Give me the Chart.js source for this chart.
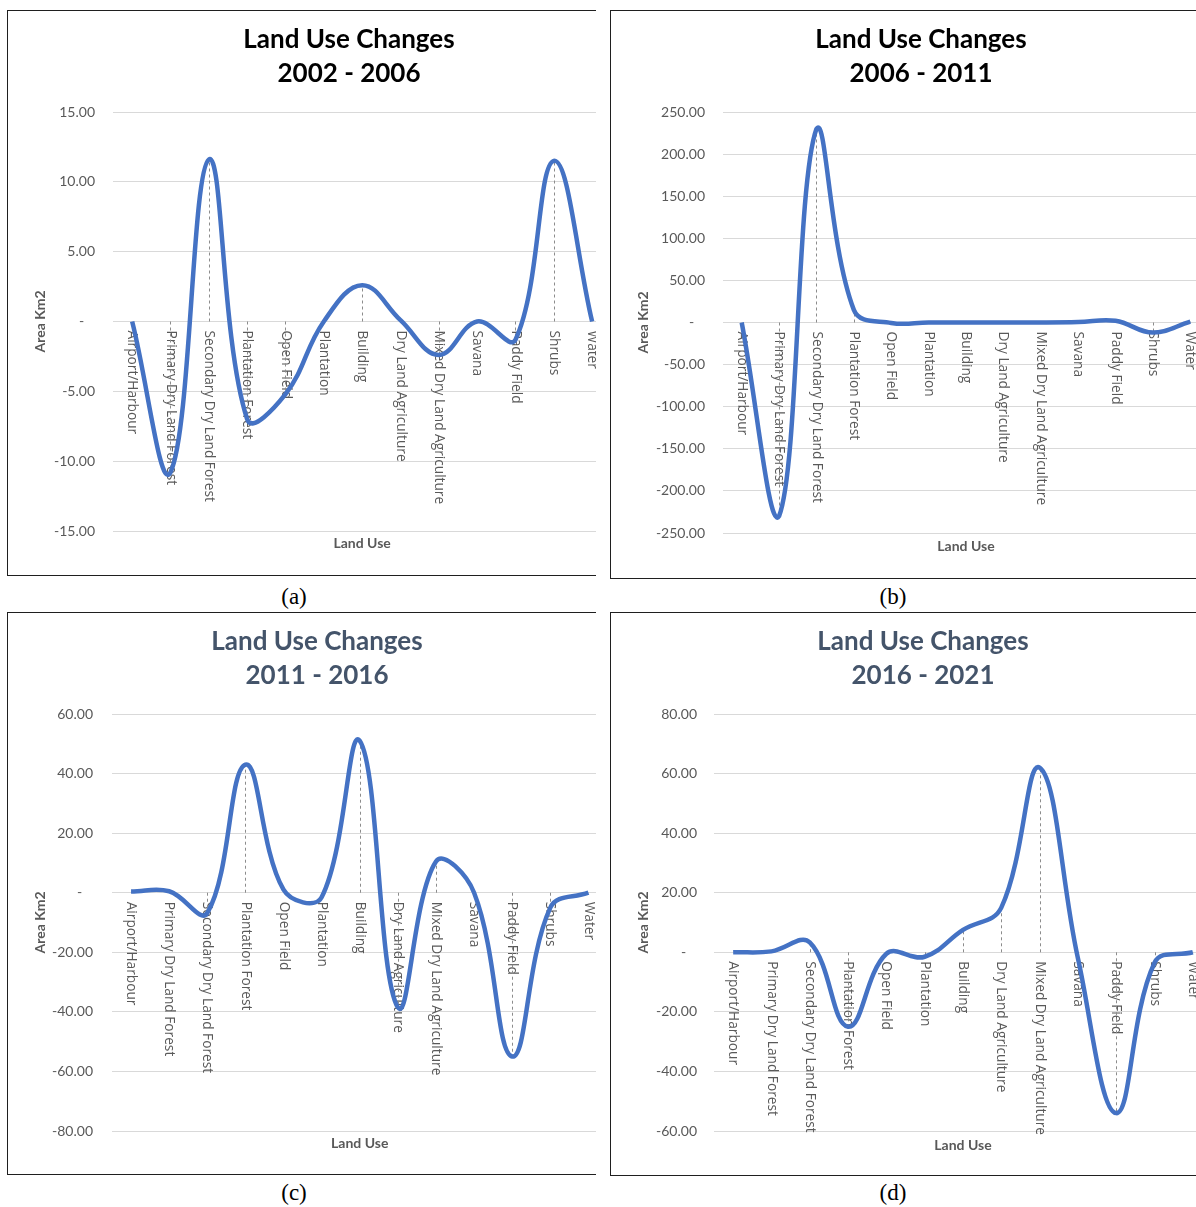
<!DOCTYPE html>
<html>
<head>
<meta charset="utf-8">
<title>Land Use Changes</title>
<script src="https://cdn.jsdelivr.net/npm/chart.js@4.4.1/dist/chart.umd.min.js"></script>
<style>
  html, body { margin: 0; padding: 0; background: #fff; }
  body { width: 1196px; height: 1207px; position: relative; overflow: hidden; }
  .frame { position: absolute; box-sizing: border-box; border: 1px solid #1f1f1f; border-right: none; overflow: hidden; background: #fff; }
  .frame canvas { position: absolute; left: 0; top: 0; }
  .cap { position: absolute; font-family: "Liberation Serif", serif; font-size: 23px; color: #000; transform: translate(-50%, -50%); white-space: nowrap; }
</style>
</head>
<body>
<div class="frame" id="frame-a"><canvas id="chart-a"></canvas></div>
<div class="frame" id="frame-b"><canvas id="chart-b"></canvas></div>
<div class="frame" id="frame-c"><canvas id="chart-c"></canvas></div>
<div class="frame" id="frame-d"><canvas id="chart-d"></canvas></div>
<div class="cap" style="left:294px; top:597px;">(a)</div>
<div class="cap" style="left:893px; top:597px;">(b)</div>
<div class="cap" style="left:294px; top:1193px;">(c)</div>
<div class="cap" style="left:893px; top:1193px;">(d)</div>

<script>
// Land use classes (category axis)
const categories = [
  'Airport/Harbour', 'Primary Dry Land Forest', 'Secondary Dry Land Forest',
  'Plantation Forest', 'Open Field', 'Plantation', 'Building',
  'Dry Land Agriculture', 'Mixed Dry Land Agriculture', 'Savana',
  'Paddy Field', 'Shrubs', 'Water'
];

// Change in area (Km2) per period
const change2002_2006 = [0, -10.8, 11.6, -7.0, -5.2, 0, 2.6, 0.1, -2.4, 0, -1.3, 11.5, 0];
const change2006_2011 = [0, -230, 230, 15, -0.5, 0, 0, 0, 0, 0.5, 2, -12, 1];
const change2011_2016 = [0.4, 0.5, -6.8, 43, 1, -1.5, 51, -38.5, 10.5, 0, -55, -5, 0];
const change2016_2021 = [0, 0.3, 3.3, -25, -0.5, -1.5, 7.5, 15, 62, -2, -54, -3.5, 0];

// Value axis ticks per period
const ticks2002_2006 = [-15, -10, -5, 0, 5, 10, 15];
const ticks2006_2011 = [-250, -200, -150, -100, -50, 0, 50, 100, 150, 200, 250];
const ticks2011_2016 = [-80, -60, -40, -20, 0, 20, 40, 60];
const ticks2016_2021 = [-60, -40, -20, 0, 20, 40, 60, 80];

// Period titles
const titles = [
  ['Land Use Changes', '2002 - 2006'],
  ['Land Use Changes', '2006 - 2011'],
  ['Land Use Changes', '2011 - 2016'],
  ['Land Use Changes', '2016 - 2021']
];

// Page layout of each framed chart
const layouts = [
  { id: 'a', frame: { l: 7,   t: 10,  r: 596,  b: 575 },  plotL: 113, plotT: 112, plotB: 531,  plotR: 611.3, titleX: 349, titleY: 40,  tickR: 95,  yTitleX: 40,  xTitleY: 543,  titleColor: '#000000' },
  { id: 'b', frame: { l: 610, t: 10,  r: 1196, b: 578 },  plotL: 723, plotT: 112, plotB: 533,  plotR: 1209,  titleX: 921, titleY: 40,  tickR: 705, yTitleX: 643, xTitleY: 546,  titleColor: '#000000' },
  { id: 'c', frame: { l: 7,   t: 612, r: 596,  b: 1174 }, plotL: 112, plotT: 714, plotB: 1131, plotR: 607.5, titleX: 317, titleY: 642, tickR: 93,  yTitleX: 40,  xTitleY: 1143, titleColor: '#44546A' },
  { id: 'd', frame: { l: 610, t: 612, r: 1196, b: 1175 }, plotL: 714, plotT: 714, plotB: 1131, plotR: 1212,  titleX: 923, titleY: 642, tickR: 697, yTitleX: 643, xTitleY: 1145, titleColor: '#44546A' }
];

const seriesList = [change2002_2006, change2006_2011, change2011_2016, change2016_2021];
const tickList = [ticks2002_2006, ticks2006_2011, ticks2011_2016, ticks2016_2021];

const LINE_COLOR = '#4472C4';
const GRID_COLOR = '#d9d9d9';
const TEXT_GRAY = '#595959';
const TITLE_SIZE = 26, TITLE_LH = 34;
const AXIS_TITLE_SIZE = 14, AXIS_TITLE_LH = 16.8;

// Category labels hang below the zero line, turned 90° clockwise,
// with dashed drop lines joining each point to the zero line.
const categoryLabels = {
  id: 'categoryLabels',
  beforeDatasetsDraw(chart) {
    const { ctx, scales: { x, y } } = chart;
    const y0 = y.getPixelForValue(0);
    ctx.save();
    ctx.font = '13.7px "Open Sans"';
    ctx.fillStyle = TEXT_GRAY;
    ctx.textAlign = 'left';
    ctx.textBaseline = 'middle';
    chart.data.labels.forEach((lab, i) => {
      const px = x.getPixelForValue(i);
      ctx.save();
      ctx.translate(px, y0 + 9);
      ctx.rotate(Math.PI / 2);
      ctx.fillText(lab, 0, 0);
      ctx.restore();
    });
    const meta = chart.getDatasetMeta(0);
    ctx.strokeStyle = '#8c8c8c';
    ctx.lineWidth = 1;
    ctx.setLineDash([3, 3]);
    meta.data.forEach(pt => {
      const px = Math.round(pt.x) + 0.5;
      ctx.beginPath();
      ctx.moveTo(px, y0);
      ctx.lineTo(px, pt.y);
      ctx.stroke();
    });
    ctx.restore();
  }
};

function build(i) {
  const L = layouts[i];
  const ticks = tickList[i];
  const frameEl = document.getElementById('frame-' + L.id);
  frameEl.style.left = L.frame.l + 'px';
  frameEl.style.top = L.frame.t + 'px';
  frameEl.style.width = (L.frame.r - L.frame.l) + 'px';
  frameEl.style.height = (L.frame.b - L.frame.t + 1) + 'px';

  const cl = L.frame.l + 1, ct = L.frame.t + 1;
  const cw = Math.round(2 * (L.titleX - cl));
  const ch = L.frame.b - ct;
  const canvas = document.getElementById('chart-' + L.id);
  canvas.width = cw; canvas.height = ch;
  canvas.style.width = cw + 'px'; canvas.style.height = ch + 'px';

  const titlePadTop = (L.titleY - ct) - TITLE_LH / 2;
  const titlePadBottom = (L.plotT - ct) - titlePadTop - 2 * TITLE_LH;
  const yWidth = L.plotL - cl;
  const rightWidth = (cl + cw) - L.plotR;
  const xHeight = (ct + ch) - L.plotB;
  const xTitlePadBottom = (ct + ch) - L.xTitleY - AXIS_TITLE_LH / 2;
  const yTitlePadTop = (L.yTitleX - cl) - AXIS_TITLE_LH / 2;

  new Chart(canvas, {
    type: 'line',
    data: {
      labels: categories,
      datasets: [{
        data: seriesList[i],
        borderColor: LINE_COLOR,
        borderWidth: 4.5,
        tension: 0.4,
        pointRadius: 0,
        fill: false,
        clip: false
      }]
    },
    options: {
      responsive: false,
      animation: false,
      devicePixelRatio: 1,
      layout: { padding: 0 },
      plugins: {
        legend: { display: false },
        tooltip: { enabled: false },
        title: {
          display: true,
          text: titles[i],
          color: L.titleColor,
          font: { family: 'Lato', size: TITLE_SIZE, weight: 'bold', lineHeight: TITLE_LH / TITLE_SIZE },
          padding: { top: titlePadTop, bottom: titlePadBottom }
        }
      },
      scales: {
        x: {
          type: 'category',
          offset: true,
          grid: { display: false, drawTicks: false },
          border: { display: false },
          ticks: { display: false },
          title: {
            display: true,
            text: 'Land Use',
            color: TEXT_GRAY,
            font: { family: 'Lato', size: AXIS_TITLE_SIZE, weight: 'bold', lineHeight: AXIS_TITLE_LH / AXIS_TITLE_SIZE },
            padding: { top: 0, bottom: xTitlePadBottom }
          },
          afterFit(s) { s.height = xHeight; }
        },
        y: {
          position: 'left',
          min: ticks[0],
          max: ticks[ticks.length - 1],
          grid: { color: GRID_COLOR, lineWidth: 1, drawTicks: false },
          border: { display: false },
          ticks: {
            stepSize: ticks[1] - ticks[0],
            color: TEXT_GRAY,
            font: { family: 'Lato', size: 14 },
            padding: L.plotL - L.tickR,
            callback: v => (v === 0 ? '-   ' : Number(v).toFixed(2))
          },
          title: {
            display: true,
            text: 'Area Km2',
            color: TEXT_GRAY,
            font: { family: 'Lato', size: AXIS_TITLE_SIZE, weight: 'bold', lineHeight: AXIS_TITLE_LH / AXIS_TITLE_SIZE },
            padding: { top: yTitlePadTop, bottom: 0 }
          },
          afterFit(s) { s.width = yWidth; }
        },
        yRight: {
          position: 'right',
          display: true,
          grid: { display: false, drawTicks: false },
          border: { display: false },
          ticks: { display: false },
          afterFit(s) { s.width = rightWidth; }
        }
      }
    },
    plugins: [categoryLabels]
  });
}

const fontLoads = [
  'bold 26px Lato', '14px Lato', 'bold 14px Lato', '13.7px "Open Sans"', '23px "Liberation Serif"'
].map(f => document.fonts.load(f).catch(() => null));
Promise.all(fontLoads).then(() => { for (let i = 0; i < 4; i++) build(i); });
</script>
</body>
</html>
